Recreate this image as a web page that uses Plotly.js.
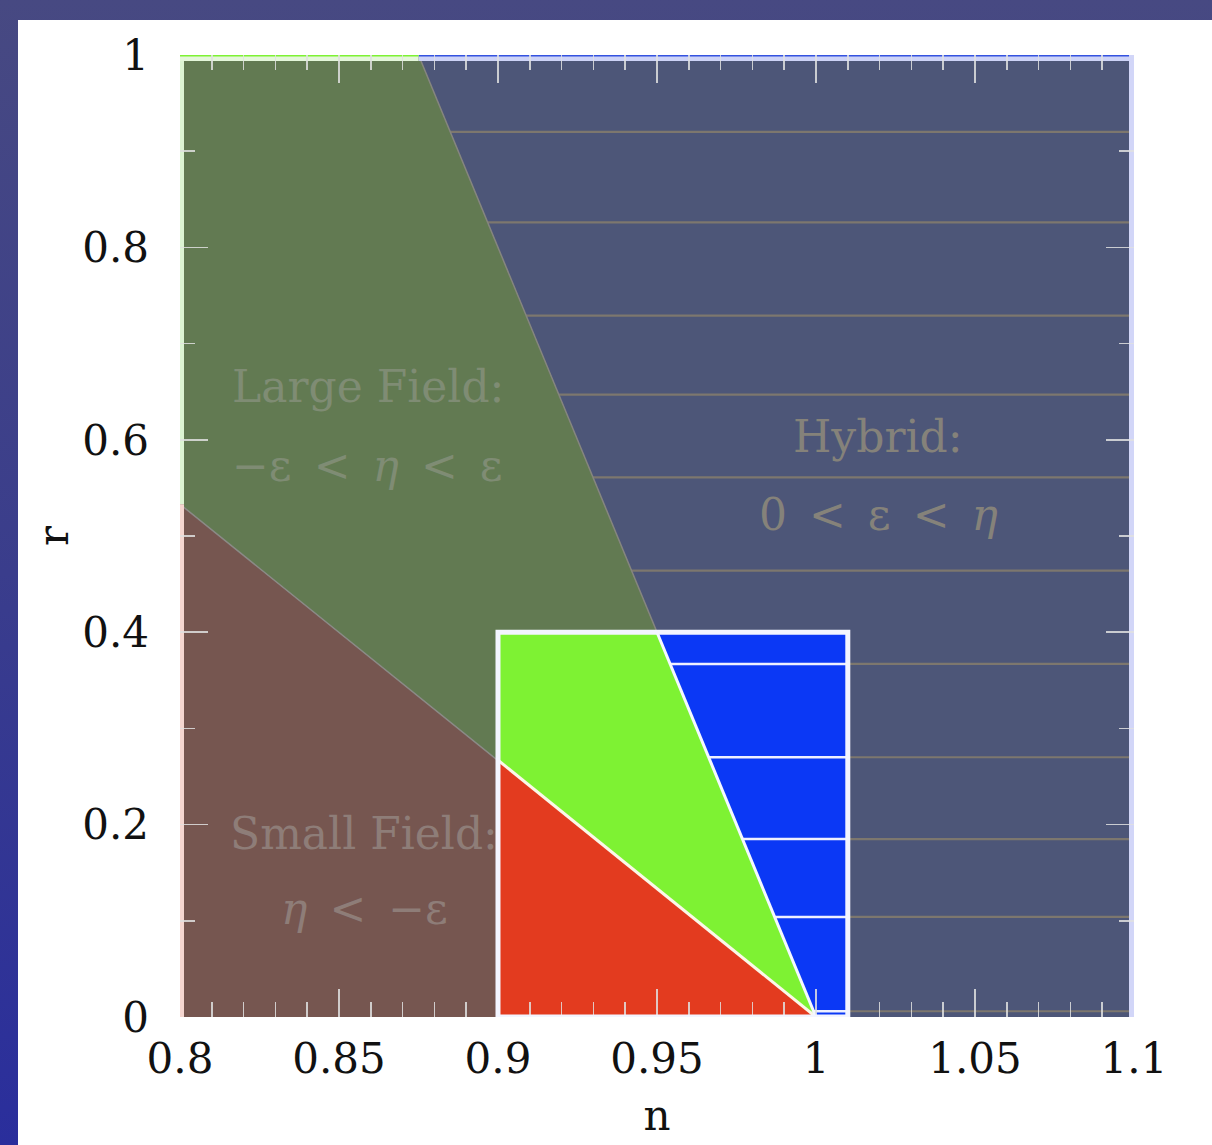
<!DOCTYPE html>
<html>
<head>
<meta charset="utf-8">
<script src="https://cdn.plot.ly/plotly-3.0.1.min.js"></script>
<style>
  html, body { margin: 0; padding: 0; }
  body { width: 1212px; height: 1145px; overflow: hidden;
         background: linear-gradient(to bottom, #474982 0%, #3a3d8c 50%, #2a2e9c 100%); position: relative; }
  #chart { position: absolute; left: 18px; top: 20px; width: 1194px; height: 1125px; background: #ffffff; }
</style>
</head>
<body>
<div id="chart"></div>
<script>
// ---- axis ranges ----
const nRange = [0.8, 1.1];
const rRange = [0, 1];

// ---- region polygons (n, r) ----
const smallN  = [0.8, 0.8, 1.0];
const smallR  = [0.0, 0.533, 0.0];
const largeN  = [0.8, 0.8, 0.875, 1.0];
const largeR  = [0.533, 1.0, 1.0, 0.0];
const hybridN = [0.875, 1.1, 1.1, 1.0];
const hybridR = [1.0, 1.0, 0.0, 0.0];

// ---- boundary lines ----
const smallLargeN  = [0.8, 1.0];
const smallLargeR  = [0.533, 0.0];
const largeHybridN = [0.875, 1.0];
const largeHybridR = [1.0, 0.0];

// ---- highlighted inset (n 0.9..1.01, r 0..0.4) ----
const insetN = [0.9, 1.01];
const insetR = [0.0, 0.4];
const insetRedN   = [0.9, 0.9, 1.0];
const insetRedR   = [0.0, 0.267, 0.0];
const insetGreenN = [0.9, 0.9, 0.95, 1.0];
const insetGreenR = [0.267, 0.4, 0.4, 0.0];
const insetBlueN  = [0.95, 1.01, 1.01, 1.0];
const insetBlueR  = [0.4, 0.4, 0.0, 0.0];

// ---- horizontal lines inside the hybrid region (r values) ----
const hybridLineR = [0.920, 0.826, 0.729, 0.647, 0.561, 0.464, 0.367, 0.270, 0.185, 0.104, 0.006];

// ---- region labels ----
const sp = "\u2002";
const labelText = ["Large Field:", "\u2212\u03b5" + sp + "<" + sp + "<i>\u03b7</i>" + sp + "<" + sp + "\u03b5",
                   "Hybrid:", "0" + sp + "<" + sp + "\u03b5" + sp + "<" + sp + "<i>\u03b7</i>",
                   "Small Field:", "<i>\u03b7</i>" + sp + "<" + sp + "\u2212\u03b5"];
const labelN = [0.859, 0.859, 1.0195, 1.0195, 0.858, 0.858];
const labelR = [0.655, 0.573, 0.603, 0.522, 0.191, 0.113];
const labelColor = ["#7f8c74", "#7f8c74", "#85827a", "#85827a", "#8e7d78", "#8e7d78"];

const traces = [];
function poly(xs, ys, color) {
  traces.push({type: 'scatter', mode: 'lines', x: xs, y: ys, fill: 'toself',
    fillcolor: color, line: {width: 0, color: color}, hoverinfo: 'skip', showlegend: false});
}
function seg(xs, ys, color, w) {
  traces.push({type: 'scatter', mode: 'lines', x: xs, y: ys,
    line: {width: w, color: color}, hoverinfo: 'skip', showlegend: false});
}

// main regions
poly(hybridN, hybridR, '#4d5678');
hybridLineR.forEach(r => seg([largeHybridN[0], nRange[1]], [r, r], '#7d776e', 2.2));
poly(largeN, largeR, '#627a52');
poly(smallN, smallR, '#765650');
seg(smallLargeN, smallLargeR, '#8a8a86', 1.5);
seg(largeHybridN, largeHybridR, '#85857f', 1.5);

// inset
poly(insetBlueN, insetBlueR, '#0b38f5');
hybridLineR.filter(r => r < insetR[1]).forEach(r => seg(insetN, [r, r], '#eef0ff', 2.5));
poly(insetGreenN, insetGreenR, '#7ef233');
poly(insetRedN, insetRedR, '#e33b1f');
seg([insetRedN[1], insetRedN[2]], [insetRedR[1], insetRedR[2]], '#fbf7e8', 3);
seg([insetGreenN[2], insetGreenN[3]], [insetGreenR[2], insetGreenR[3]], '#f4f8ff', 3);

// frame edges
seg([nRange[0], nRange[0]], [smallR[1], rRange[1]], '#dcf4d2', 8);
seg([nRange[0], nRange[0]], [rRange[0], smallR[1]], '#f5d6d0', 8);
seg([largeHybridN[0], nRange[1]], [rRange[1], rRange[1]], '#cdd3f7', 12);
seg([largeHybridN[0], nRange[1]], [rRange[1], rRange[1]], '#3452e0', 3);
seg([nRange[0], largeHybridN[0]], [rRange[1], rRange[1]], '#e4f7da', 12);
seg([nRange[0], largeHybridN[0]], [rRange[1], rRange[1]], '#7ef233', 3);
seg([nRange[1], nRange[1]], rRange, '#d2d6f8', 10);

const annotations = labelText.map((t, i) => ({
  x: labelN[i], y: labelR[i], xref: 'x', yref: 'y', text: t, showarrow: false,
  font: {family: 'DejaVu Serif', size: 44, color: labelColor[i]}
}));

const tickColor = 'rgba(225,225,225,0.85)';
const layout = {
  width: 1194, height: 1125,
  margin: {l: 162, r: 78, t: 34.5, b: 128, pad: 0},
  paper_bgcolor: '#ffffff', plot_bgcolor: '#ffffff',
  showlegend: false,
  font: {family: 'DejaVu Serif', color: '#111111'},
  xaxis: {
    range: nRange, dtick: 0.05, tick0: 0.8, ticks: 'inside', ticklen: 28, tickwidth: 1.5,
    tickcolor: tickColor, mirror: 'ticks', showgrid: false, zeroline: false, showline: false,
    minor: {dtick: 0.01, ticks: 'inside', ticklen: 15, tickwidth: 1.5, tickcolor: tickColor, showgrid: false},
    tickfont: {family: 'DejaVu Serif', size: 42, color: '#111111'},
    ticklabelstandoff: 13,
    title: {text: 'n', font: {family: 'DejaVu Serif', size: 42, color: '#111111'}, standoff: 18},
    automargin: false, fixedrange: true
  },
  yaxis: {
    range: rRange, dtick: 0.2, tick0: 0, ticks: 'inside', ticklen: 28, tickwidth: 1.5,
    tickcolor: tickColor, mirror: 'ticks', showgrid: false, zeroline: false, showline: false,
    minor: {dtick: 0.1, ticks: 'inside', ticklen: 15, tickwidth: 1.5, tickcolor: tickColor, showgrid: false},
    tickfont: {family: 'DejaVu Serif', size: 42, color: '#111111'},
    ticklabelstandoff: 30,
    title: {text: 'r', font: {family: 'DejaVu Serif', size: 42, color: '#111111'}, standoff: 0},
    automargin: false, fixedrange: true
  },
  shapes: [{
    type: 'rect', xref: 'x', yref: 'y', x0: insetN[0], x1: insetN[1], y0: insetR[0], y1: insetR[1],
    line: {color: '#f3f5ff', width: 5}, fillcolor: 'rgba(0,0,0,0)', layer: 'above'
  }],
  annotations: annotations
};

Plotly.newPlot('chart', traces, layout, {displayModeBar: false, staticPlot: true});
</script>
</body>
</html>
